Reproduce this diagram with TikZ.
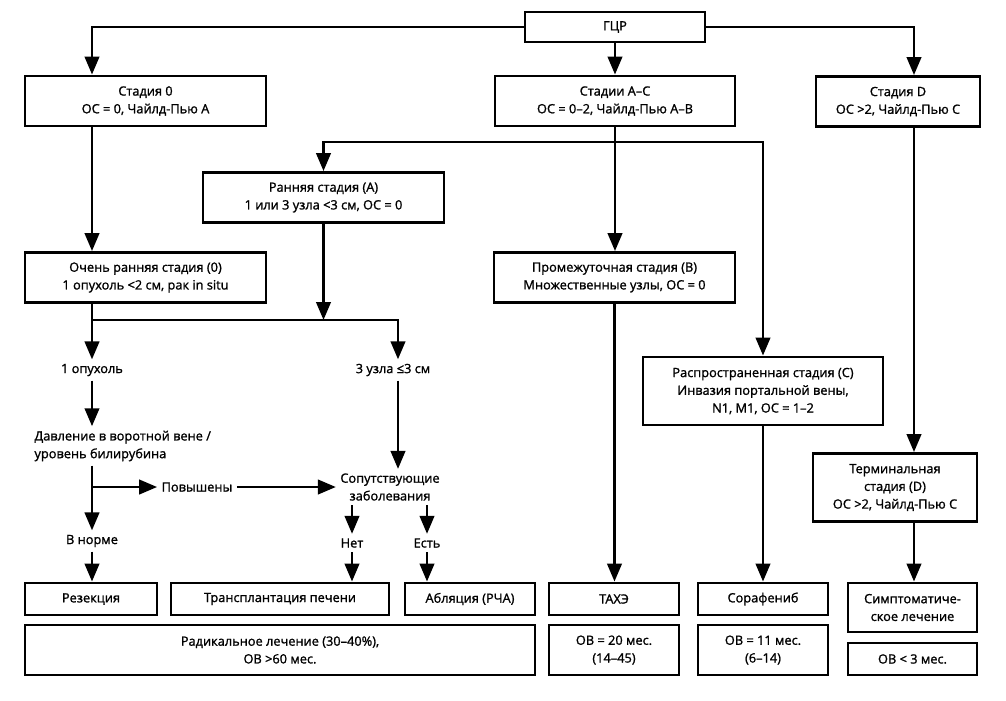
\documentclass[tikz,border=0pt]{standalone}
\usepackage{fontspec}
\setmainfont{Open Sans}[FakeBold=1.3]
\usetikzlibrary{arrows.meta,positioning}

\begin{document}
\begin{tikzpicture}[x=0.025cm, y=-0.025cm,
    font=\fontsize{9.1}{12.6}\selectfont,
    box/.style={draw, rectangle, line width=2pt, align=center, inner sep=1pt, minimum height=1.25cm},
    lbl/.style={align=center, inner sep=3pt},
    arr/.style={-{Triangle[width=0.36cm, length=0.45cm]}, line width=2pt},
    ln/.style={line width=2pt}]
    \useasboundingbox (0,0) rectangle (1006,700);

    % Columns
    \coordinate (c0) at (92,0);
    \coordinate (c3) at (398,0);
    \coordinate (cD) at (914,0);

    % Stages
    \node[box, minimum width=4.5cm, minimum height=0.75cm] (hcc) at (615,27) {ГЦР};
    \node[box, minimum width=6.025cm] (st0) at (145.5,101) {Стадия 0\\ОС = 0, Чайлд-Пью A};
    \node[box, minimum width=6cm] (stAC) at (615,101) {Стадии A–C\\ОС = 0–2, Чайлд-Пью A–B};
    \node[box, minimum width=4.1cm] (stD) at (898,101.5) {Стадия D\\ОС >2, Чайлд-Пью C};
    \node[box, minimum width=6.025cm] (early) at (323.5,197.5) {Ранняя стадия (A)\\1 или 3 узла <3 см, ОС = 0};
    \node[box, minimum width=6.025cm] (veryearly) at (145.5,277.5) {Очень ранняя стадия (0)\\1 опухоль <2 см, рак in situ};
    \node[box, minimum width=6.025cm] (interm) at (614.5,277.5) {Промежуточная стадия (B)\\Множественные узлы, ОС = 0};
    \node[box, minimum width=6cm, minimum height=1.7cm] (adv) at (763,391) {Распространенная стадия (C)\\Инвазия портальной вены,\\N1, M1, ОС = 1–2};
    \node[box, minimum width=4.1cm, minimum height=1.7cm] (term) at (895,487.5) {Терминальная\\стадия (D)\\ОС >2, Чайлд-Пью C};

    % Decisions
    \node[lbl] (tumor1) at (92,370) {1 опухоль};
    \node[lbl] (nodes3) at (393,370) {3 узла ≤3 см};
    \node[lbl, anchor=west, align=left] (press) at (30,446) {Давление в воротной вене /\\уровень билирубина};
    \node[lbl] (elev) at (197,487) {Повышены};
    \node[lbl] (comorb) at (390,487) {Сопутствующие\\заболевания};
    \node[lbl] (normal) at (92,541) {В норме};
    \node[lbl] (no) at (352,543) {Нет};
    \node[lbl] (yes) at (427,543) {Есть};

    % Treatment
    \node[box, minimum width=3.3cm, minimum height=0.8cm] (resec) at (91,599) {Резекция};
    \node[box, minimum width=5.45cm, minimum height=0.8cm] (transpl) at (280,599) {Трансплантация печени};
    \node[box, minimum width=3.25cm, minimum height=0.8cm] (abl) at (470,599) {Абляция (РЧА)};
    \node[box, minimum width=3.25cm, minimum height=0.8cm] (tace) at (614,599) {ТАХЭ};
    \node[box, minimum width=3.25cm, minimum height=0.8cm] (sora) at (763,599) {Сорафениб};
    \node[box, minimum width=3.225cm, minimum height=1.225cm] (sympt) at (912.5,607.5) {Симптоматиче-\\ское лечение};

    % Outcome
    \node[box, minimum width=12.75cm] (radical) at (280,650) {Радикальное лечение (30–40\%),\\ОВ >60 мес.};
    \node[box, minimum width=3.25cm] (ostace) at (614,650) {ОВ = 20 мес.\\(14–45)};
    \node[box, minimum width=3.25cm] (ossora) at (763,650) {ОВ = 11 мес.\\(6–14)};
    \node[box, minimum width=3.225cm, minimum height=0.8cm] (ossympt) at (912.5,659) {ОВ < 3 мес.};

    % Connectors
    \draw[arr] (hcc.west) -- (c0 |- hcc.west) -- (c0 |- st0.north);
    \draw[arr] (hcc.east) -- (cD |- hcc.east) -- (cD |- stD.north);
    \draw[arr] (hcc.south) -- (stAC.north);
    \draw[arr] (stAC.south) -- (stAC.south |- interm.north);
    \coordinate (acfork) at (615,142);
    \draw[arr] (acfork) -- (early.north |- acfork) -- (early.north);
    \draw[arr] (acfork) -- (adv.north |- acfork) -- (adv.north);
    \draw[arr] (c0 |- st0.south) -- (c0 |- veryearly.north);
    \draw[arr] (cD |- stD.south) -- (cD |- term.north);

    \coordinate (fork0) at (92,320);
    \draw[ln] (c0 |- veryearly.south) -- (fork0);
    \draw[arr] (fork0) -- (tumor1.north);
    \draw[arr] (fork0) -- (c3 |- fork0) -- (c3 |- nodes3.north);
    \draw[arr] (early.south) -- (early.south |- fork0);
    \draw[arr] (tumor1.south) -- (c0 |- press.north);
    \draw[arr] (c0 |- press.south) -- (normal.north);
    \draw[arr] (c0 |- elev.west) -- (elev.west);
    \draw[arr] (elev.east) -- (comorb.west |- elev.east);
    \draw[arr] (c3 |- nodes3.south) -- (c3 |- comorb.north);
    \draw[arr] (comorb.south -| no.north) -- (no.north);
    \draw[arr] (comorb.south -| yes.north) -- (yes.north);

    \draw[arr] (normal.south) -- (normal.south |- resec.north);
    \draw[arr] (no.south) -- (no.south |- transpl.north);
    \draw[arr] (yes.south) -- (yes.south |- abl.north);
    \draw[arr] (interm.south) -- (interm.south |- tace.north);
    \draw[arr] (adv.south) -- (adv.south |- sora.north);
    \draw[arr] (cD |- term.south) -- (cD |- sympt.north);
\end{tikzpicture}
\end{document}
